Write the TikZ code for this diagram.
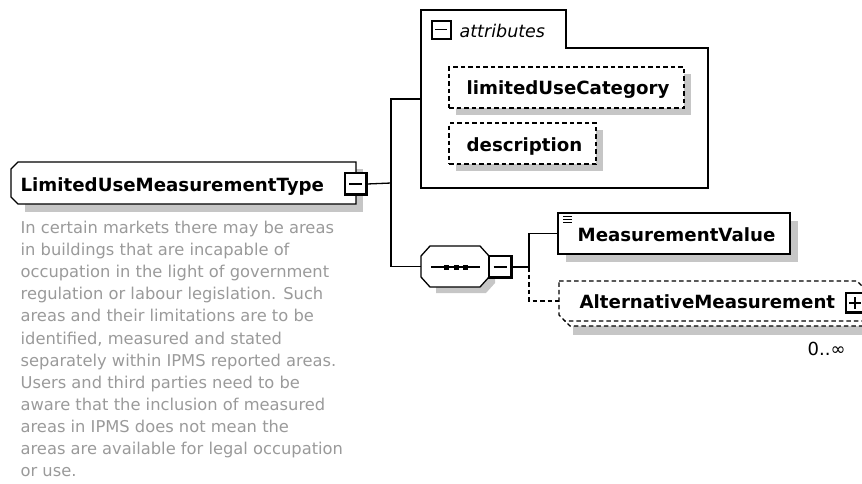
\documentclass[tikz,border=0pt]{standalone}
\usepackage{fontspec}
\setmainfont{DejaVu Sans}
\usetikzlibrary{calc,shadows}
\definecolor{shadowgray}{HTML}{C6C6C6}
\definecolor{descgray}{HTML}{9A9A9A}
\tikzset{
  area/.style={inner sep=0pt, outer sep=0pt, anchor=north west},
  lbl/.style={inner sep=0pt, anchor=base west, font=\fontsize{18.2}{22}\selectfont\bfseries, text=black},
  desc/.style={inner sep=0pt, anchor=base west, font=\fontsize{16.3}{22}\selectfont, text=descgray},
  dbox/.style={area, draw, dashed, dash pattern=on 4.5pt off 3pt, fill=white,
     drop shadow={shadow xshift=7pt, shadow yshift=-7pt, fill=shadowgray, opacity=1}},
  sbox/.style={area, draw, fill=white,
     drop shadow={shadow xshift=8pt, shadow yshift=-8pt, fill=shadowgray, opacity=1}},
  btn/.style={draw, fill=white, inner sep=0pt, outer sep=0pt},
  conn/.style={draw, line width=1.3pt},
  dconn/.style={conn, dash pattern=on 4.5pt off 3pt},
}
\begin{document}
\begin{tikzpicture}[x=1pt, y=-1pt, line width=1.3pt]
\useasboundingbox (0,0) rectangle (862,483);

% ---------- main type node ----------
\node[area, minimum width=345pt, minimum height=42pt] (main) at (11,162) {};
\fill[shadowgray] ($(main.north west)+(14,7)$) rectangle ($(main.south east)+(7,8)$);
\draw[fill=white] ($(main.north west)+(7,0)$) -- (main.north east) -- (main.south east)
  -- ($(main.south west)+(7,0)$) -- ($(main.south west)+(0,-7)$) -- ($(main.north west)+(0,7)$) -- cycle;
\node[lbl] (mainlbl) at (20,191) {LimitedUseMeasurementType};
\node[btn, minimum width=22pt, minimum height=22pt] (mainbtn) at (356,184) {};
\draw[line width=2.6pt] ($(mainbtn.north east)+(-1,0)$) -- ($(mainbtn.south east)+(-1,-1)$) -- ($(mainbtn.south west)+(0,-1)$);
\draw ($(mainbtn.center)+(-7,0)$) -- ($(mainbtn.center)+(6,0)$);

% ---------- description ----------
\foreach \t [count=\i] in {
  {In certain markets there may be areas},
  {in buildings that are incapable of},
  {occupation in the light of government},
  {regulation or labour legislation. Such},
  {areas and their limitations are to be},
  {identified, measured and stated},
  {separately within IPMS reported areas.},
  {Users and third parties need to be},
  {aware that the inclusion of measured},
  {areas in IPMS does not mean the},
  {areas are available for legal occupation},
  {or use.}}
  \node[desc] (d\i) at (20,{233.5+22.1*(\i-1)}) {\t};

% ---------- attributes group ----------
\node[area, minimum width=287pt, minimum height=178pt] (attr) at (421,10) {};
\draw (attr.north west) -- ++(145,0) -- ++(0,38) -| (attr.south east) -- (attr.south west) -- cycle;
\node[btn, line width=2pt, minimum width=19pt, minimum height=18pt] (attrbtn) at (441,29.5) {};
\draw ($(attrbtn.center)+(-6,0)$) -- ($(attrbtn.center)+(6,0)$);
\node[inner sep=0pt, anchor=base west, font=\fontsize{17.5}{20}\selectfont\itshape] (attrlbl) at (459,37) {attributes};

\node[dbox, minimum width=235pt, minimum height=41pt] (luc) at (449,67) {};
\node[lbl] (luclbl) at (466,94.5) {limitedUseCategory};
\node[dbox, minimum width=147pt, minimum height=41pt] (descr) at (449,123) {};
\node[lbl] (descrlbl) at (466,151) {description};

% ---------- sequence compositor ----------
\node[area, minimum width=68pt, minimum height=41pt] (seq) at (421,246) {};
\fill[shadowgray] ($(seq.north west)+(15,6)$) -- ($(seq.north east)+(-3,6)$) -- ($(seq.north east)+(6,16)$)
  -- ($(seq.south east)+(6,-4)$) -- ($(seq.south east)+(-3,6)$) -- ($(seq.south west)+(15,6)$) -- cycle;
\draw[fill=white] ($(seq.north west)+(9,0)$) -- ($(seq.north east)+(-9,0)$) -- ($(seq.north east)+(0,10)$)
  -- ($(seq.south east)+(0,-10)$) -- ($(seq.south east)+(-9,0)$) -- ($(seq.south west)+(9,0)$)
  -- ($(seq.south west)+(0,-10)$) -- ($(seq.north west)+(0,10)$) -- cycle;
\draw ($(seq.west)+(10,0.5)$) -- ($(seq.east)+(-9,0.5)$);
\foreach \sx in {444,453.5,463}
  \fill (\sx,264.5) rectangle ++(5,5);
\node[btn, minimum width=23pt, minimum height=22pt] (seqbtn) at (500.5,267) {};
\draw[line width=2.6pt] ($(seqbtn.north east)+(-1,0)$) -- ($(seqbtn.south east)+(-1,-1)$) -- ($(seqbtn.south west)+(0,-1)$);
\draw ($(seqbtn.center)+(-7,0)$) -- ($(seqbtn.center)+(6,0)$);

% ---------- MeasurementValue ----------
\node[sbox, minimum width=232pt, minimum height=41pt] (mv) at (558,213) {};
\foreach \ly in {216.5,219.5,222.5}
  \draw[line width=1pt] (563,\ly) -- (572,\ly);
\node[lbl] (mvlbl) at (577,241) {MeasurementValue};

% ---------- AlternativeMeasurement ----------
\node[area, minimum width=304pt, minimum height=40pt] (alt) at (559,281) {};
\fill[shadowgray] ($(alt.north west)+(14,12)$) rectangle ($(alt.south east)+(14,14)$);
\draw[fill=white, dash pattern=on 4.5pt off 3pt] ($(alt.north west)+(5,5)$) -- ($(alt.north east)+(-1,5)$) -- ($(alt.north east)+(5,11)$)
  -- ($(alt.south east)+(5,5)$) -- ($(alt.south west)+(11,5)$) -- ($(alt.south west)+(5,-1)$) -- cycle;
\draw[fill=white, dash pattern=on 4.5pt off 3pt] (alt.north west) -- ($(alt.north east)+(-6,0)$) -- ($(alt.north east)+(0,6)$)
  -- (alt.south east) -- ($(alt.south west)+(6,0)$) -- ($(alt.south west)+(0,-6)$) -- cycle;
\node[lbl] (altlbl) at (579,308) {AlternativeMeasurement};
\node[btn, minimum width=18pt, minimum height=20pt] (altbtn) at (855,303) {};
\draw[line width=2.6pt] ($(altbtn.south east)+(0,-1)$) -- ($(altbtn.south west)+(0,-1)$);
\draw ($(altbtn.center)+(-6,0)$) -- ($(altbtn.center)+(6,0)$);
\draw ($(altbtn.center)+(0,-6)$) -- ($(altbtn.center)+(0,6)$);
\node[inner sep=0pt, anchor=base west, font=\fontsize{18}{20}\selectfont] (altcard) at (807,355) {0..∞};

% ---------- connectors ----------
\coordinate (j1) at (391,183);
\coordinate (j2) at (529,267);
\draw[conn] (mainbtn.east) -- (j1);
\draw[conn] (attr.west) -| (j1) |- (seq.west);
\draw[conn] (seqbtn.east) -- (j2);
\draw[conn] (j2) |- (mv.west);
\draw[dconn] (j2) |- (alt.west);
\end{tikzpicture}
\end{document}
